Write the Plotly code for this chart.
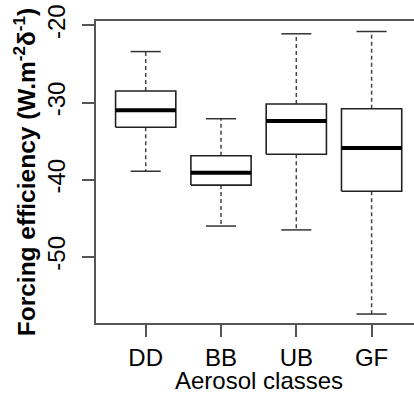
import plotly.graph_objects as go

categories = ["DD", "BB", "UB", "GF"]
upper_whisker = [-23.4, -32.1, -21.1, -20.8]
q3 = [-28.5, -36.9, -30.2, -30.8]
median = [-31.0, -39.1, -32.4, -35.9]
q1 = [-33.2, -40.7, -36.7, -41.5]
lower_whisker = [-38.9, -46.0, -46.5, -57.4]
y_ticks = [-20, -30, -40, -50]

BOX_HALF = 0.4
CAP_HALF = 0.2
FONT = "Liberation Sans, Arial, sans-serif"

fig = go.Figure()

for i, cat in enumerate(categories):
    x = i + 1
    # dashed whiskers
    fig.add_trace(go.Scatter(x=[x, x, None, x, x],
                             y=[q3[i], upper_whisker[i], None, q1[i], lower_whisker[i]],
                             mode="lines", line=dict(color="#444444", width=1.5, dash="4px,3px"),
                             hoverinfo="skip", showlegend=False))
    # caps
    fig.add_trace(go.Scatter(x=[x - CAP_HALF, x + CAP_HALF, None, x - CAP_HALF, x + CAP_HALF],
                             y=[upper_whisker[i], upper_whisker[i], None, lower_whisker[i], lower_whisker[i]],
                             mode="lines", line=dict(color="#333333", width=1.5),
                             hoverinfo="skip", showlegend=False))
    # box
    fig.add_trace(go.Scatter(x=[x - BOX_HALF, x + BOX_HALF, x + BOX_HALF, x - BOX_HALF, x - BOX_HALF],
                             y=[q1[i], q1[i], q3[i], q3[i], q1[i]],
                             mode="lines", line=dict(color="#222222", width=1.6),
                             fill="toself", fillcolor="white",
                             hoverinfo="skip", showlegend=False))
    # median
    fig.add_trace(go.Scatter(x=[x - BOX_HALF, x + BOX_HALF], y=[median[i], median[i]],
                             mode="lines", line=dict(color="black", width=4),
                             hoverinfo="skip", showlegend=False))

fig.update_layout(
    width=414, height=396,
    margin=dict(l=96, r=0, t=21, b=73),
    plot_bgcolor="white", paper_bgcolor="white",
    font=dict(family=FONT, color="black"),
    xaxis=dict(range=[0.34, 4.563], tickmode="array", tickvals=[1, 2, 3, 4], ticktext=categories,
               showgrid=False, zeroline=False, showline=True, mirror=True, linecolor="#555555", linewidth=1.5,
               ticks="outside", ticklen=12, tickwidth=1.5, tickcolor="#555555",
               tickfont=dict(size=24)),
    yaxis=dict(range=[-58.56, -19.44], tickmode="array", tickvals=y_ticks, ticktext=[str(t) for t in y_ticks],
               showgrid=False, zeroline=False, showline=True, mirror=False, linecolor="#555555", linewidth=1.5,
               ticks="outside", ticklen=12, tickwidth=1.5, tickcolor="#555555",
               tickangle=-90, tickfont=dict(size=24), ticklabelstandoff=8,
               title=dict(text="<b>Forcing efficiency (W.m<sup>-2</sup>δ<sup>-1</sup>)</b>",
                          font=dict(size=24.5), standoff=0)),
    annotations=[dict(text="Aerosol classes", xref="paper", yref="paper", x=0.5 * (4.66 - 0.34) / (4.563 - 0.34),
                      y=-0.189, xanchor="center", yanchor="middle", showarrow=False,
                      font=dict(size=24, family=FONT, color="black"))],
)

fig.write_html("out.html")
